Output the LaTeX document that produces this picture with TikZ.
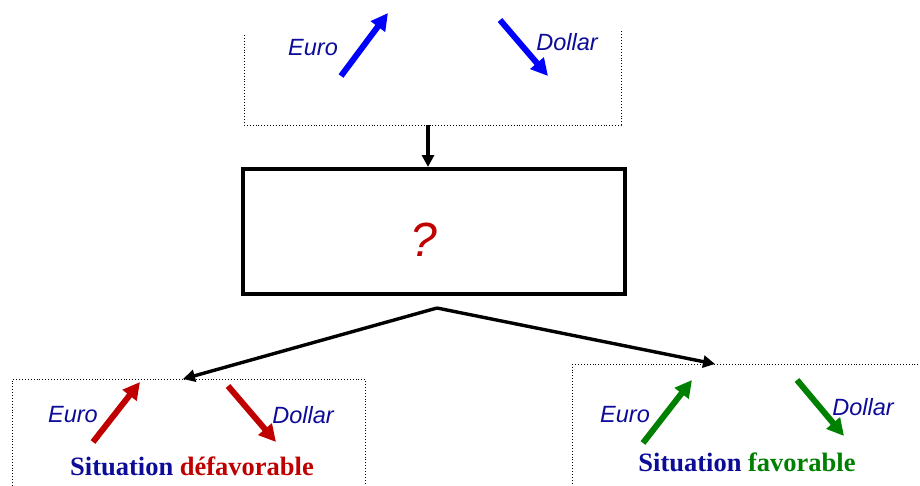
\documentclass[tikz,border=0pt]{standalone}
\usepackage{fontspec}
\setmainfont{Liberation Serif}
\setsansfont{Liberation Sans}
\usepackage{xcolor}
\usepackage{tikz}
\usetikzlibrary{arrows.meta,positioning}
\definecolor{trendblue}{HTML}{0000FF}
\definecolor{labelnavy}{HTML}{0C0C99}
\definecolor{badred}{HTML}{C00000}
\definecolor{goodgreen}{HTML}{008000}

\begin{document}
\begin{tikzpicture}[x=1pt, y=-1pt,
  frame/.style={draw, dotted, line width=0.9pt, rectangle, inner sep=0pt},
  bigbox/.style={draw, line width=4pt, rectangle, minimum width=382pt,
    minimum height=125pt},
  link/.style={line width=3.4pt, -{Triangle[length=12pt,width=12pt]}},
  trend/.style={line width=6pt, -{Triangle[length=17pt,width=17pt]}},
  cur/.style={font=\sffamily\itshape\fontsize{23.5}{27}\selectfont, text=labelnavy},
  verdict/.style={font=\bfseries\fontsize{26.5}{30}\selectfont, text=labelnavy},
]
  \useasboundingbox (0,0) rectangle (920,485);

  % start situation
  \draw[dotted, line width=0.9pt] (244,35) -- (244,125) -- (621,125) -- (621,30);
  \coordinate (topout) at (428,125);
  \node[cur] (euro0) at (313,48) {Euro};
  \node[cur] (dollar0) at (567,42) {Dollar};
  \draw[trend, trendblue] (341,76) -- (388,13);
  \draw[trend, trendblue] (500,20) -- (548,76);

  % unknown step
  \node[bigbox] (q) at (434,231.5) {};
  \node[font=\sffamily\itshape\fontsize{48}{52}\selectfont, text=badred] (mark) at (424,240) {?};
  \draw[link] (topout) -- (topout |- q.north);

  % the two outcomes
  \node[frame, minimum width=353pt, minimum height=160pt, anchor=north west] (bad) at (12,379) {};
  \node[frame, minimum width=380pt, minimum height=160pt, anchor=north west] (good) at (572,364) {};
  \coordinate (fork) at (437,308);
  \coordinate (badin) at (bad.north -| 183,0);
  \coordinate (goodin) at (good.north -| 715,0);
  \draw[link] (fork) -- (badin);
  \draw[link] (fork) -- (goodin);

  \node[cur] (euro1) at (73,415) {Euro};
  \node[cur] (dollar1) at (303,415) {Dollar};
  \draw[trend, badred] (93,442) -- (140,382);
  \draw[trend, badred] (228,386) -- (276,442);
  \node[verdict] (verdict1) at (192,466) {Situation \textcolor{badred}{défavorable}};

  \node[cur] (euro2) at (625,415) {Euro};
  \node[cur] (dollar2) at (863,407) {Dollar};
  \draw[trend, goodgreen] (643,443) -- (692,380);
  \draw[trend, goodgreen] (797,380) -- (844,436);
  \node[verdict] (verdict2) at (747,462) {Situation \textcolor{goodgreen}{favorable}};
\end{tikzpicture}
\end{document}
